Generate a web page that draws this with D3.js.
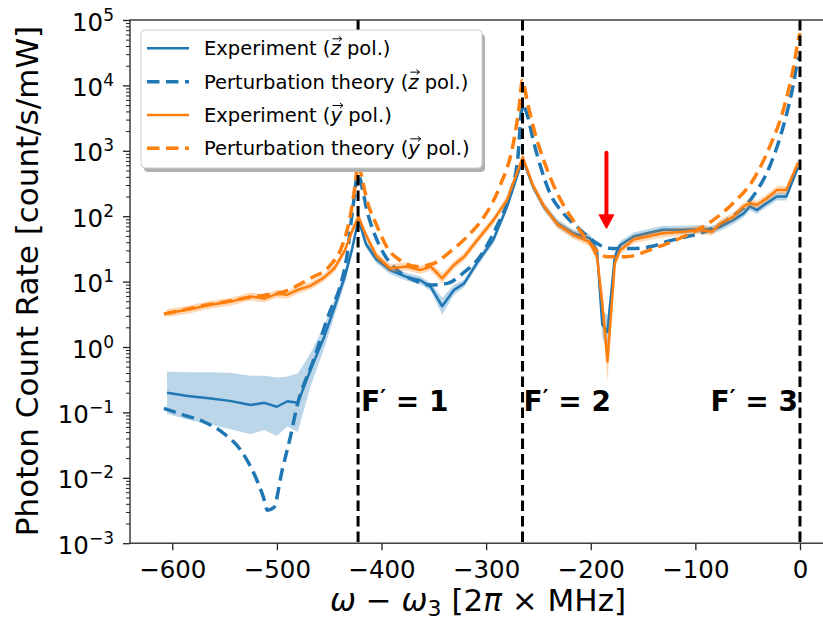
<!DOCTYPE html>
<html>
<head>
<meta charset="utf-8">
<style>
  body { margin: 0; background: #fff; }
  svg { display: block; font-family: "DejaVu Sans", sans-serif; }
</style>
</head>
<body>
<script src="https://d3js.org/d3.v7.min.js"></script>
<script>
var width = 823, height = 621;
var blue = "#1f77b4", orange = "#ff7f0e";

// measured points (detuning in 2pi x MHz), shared by both polarisations
var expX = [-605,-585,-565,-545,-525,-512,-500,-490,-480,-468,-455,-445,-435,-428,-422,
  -415,-405,-392,-376,-363,-353,-342,-331,-321,-309,-293,-280,-265,-255,-245,
  -232,-217,-201,-194,-189,-184,-177,-172,-159,-146,-131,-111,-96,-84,-76,
  -64,-54,-48,-41,-32,-22,-13,-2];
var expZ = [0.20,0.178,0.165,0.15,0.13,0.14,0.122,0.148,0.14,0.44,1.4,4.0,12,32,90,
  38,22,15,11.8,10.5,8.3,4.2,7.4,9.4,19,44,140,750,280,141,
  78,55,46,30,2.2,1.7,24,36,49,55,62,62,63,62,69,
  87,110,141,124,158,200,200,560];
var expZErr = [2.1,2.3,2.5,2.7,2.8,2.6,2.8,2.4,2.8,1.8,1.5,1.35,1.25,1.2,1.15,
  1.15,1.15,1.15,1.15,1.15,1.15,1.35,1.2,1.15,1.15,1.15,1.15,1.15,1.15,1.15,
  1.15,1.15,1.15,1.2,1.6,1.8,1.25,1.15,1.15,1.15,1.15,1.15,1.15,1.15,1.15,
  1.15,1.15,1.15,1.15,1.15,1.15,1.15,1.15];
var expY = [3.3,3.7,4.4,4.9,5.9,5.5,6.5,6.3,7.5,8.6,11.5,16,30,60,98,
  52,25,16,17,15,17,11.2,17.8,24,42,87,178,800,290,145,
  75,52,40,24,4.7,0.6,19,30,44,49,55,58,62,58,78,
  98,141,158,150,187,251,251,650];
var expYErr = [1.15,1.15,1.15,1.15,1.15,1.15,1.15,1.15,1.15,1.15,1.15,1.15,1.15,1.15,1.15,
  1.15,1.15,1.15,1.15,1.15,1.15,1.2,1.15,1.15,1.15,1.15,1.15,1.15,1.15,1.15,
  1.15,1.15,1.15,1.2,1.6,2.1,1.2,1.15,1.15,1.15,1.15,1.15,1.15,1.15,1.15,
  1.15,1.15,1.15,1.15,1.15,1.15,1.15,1.15];

// perturbation theory curves
var theoZX = [-608,-589,-570,-551,-535,-522,-513,-509,-503,-495,-487,-481,-465,-449,-440,
  -433,-427,-422.4,-418,-414,-407,-398,-385,-369,-353,-337,-322,-306,-290,-277,
  -270,-265.2,-261,-255,-248,-239,-226,-210,-191,-178,-159,-140,-127,-110,-95,
  -70,-45,-29,-16,-6,-2,0];
var theoZ = [0.115,0.091,0.072,0.048,0.027,0.0117,0.0051,0.0032,0.0035,0.013,0.043,0.12,0.63,3.6,8,
  25,150,450,250,124,55,27,15,10.5,8.9,9.4,13.5,24,69,224,
  700,5000,3700,1450,575,224,110,62,36,32,32,35,41,48,55,
  87,200,575,2350,11000,24500,27500];
var theoYX = [-608,-589,-570,-550,-530,-512,-493,-480,-468,-449,-438,-430,-425,-422.4,-419,
  -414,-404,-395,-382,-366,-350,-334,-318,-302,-287,-274,-269,-265.2,-261,-255,
  -245,-232,-217,-201,-185,-166,-140,-111,-83,-64,-45,-29,-16,-6,-1,0];
var theoY = [3.2,3.7,4.3,4.9,5.6,6.2,7.0,8.8,11.2,17.8,34,98,316,650,400,
  178,69,34,21,17,19,29,49,98,283,1300,4000,12000,6000,2350,
  720,224,87,39,24,24,32,49,87,158,355,1150,4200,19500,55000,63000];

var xTicks = [-600,-500,-400,-300,-200,-100,0];
var yDecades = [-3,-2,-1,0,1,2,3,4,5];
var resonances = [-422.4, -265.2, 0];
var resonanceNames = ["1", "2", "3"];
var arrowX = -185, arrowFrom = 930, arrowTo = 66;

var legendItems = [
  {name: "Experiment", vec: "z", color: blue, dashed: false},
  {name: "Perturbation theory", vec: "z", color: blue, dashed: true},
  {name: "Experiment", vec: "y", color: orange, dashed: false},
  {name: "Perturbation theory", vec: "y", color: orange, dashed: true}
];

var pL = 130, pR = 832, pT = 20, pB = 543.2;
var x = d3.scaleLinear().domain([-640.4, 30.6]).range([pL, pR]);
var y = d3.scaleLog().domain([1e-3, 1e5]).range([pB, pT]);

var svg = d3.select("body").append("svg")
    .attr("width", width).attr("height", height);

svg.append("clipPath").attr("id", "plot")
  .append("rect").attr("x", pL).attr("y", pT)
    .attr("width", pR - pL).attr("height", pB - pT);

var plot = svg.append("g").attr("clip-path", "url(#plot)");

function rows(xs, ys, es) {
  return xs.map(function(d, i) { return {x: d, v: ys[i], e: es ? es[i] : 1}; });
}

var line = d3.line().x(function(d) { return x(d.x); }).y(function(d) { return y(d.v); });
var smooth = d3.line().curve(d3.curveMonotoneX)
    .x(function(d) { return x(d.x); }).y(function(d) { return y(d.v); });
var band = d3.area().x(function(d) { return x(d.x); })
    .y0(function(d) { return y(d.v / d.e); })
    .y1(function(d) { return y(d.v * d.e); });

var zRows = rows(expX, expZ, expZErr), yRows = rows(expX, expY, expYErr);

function drawSeries(r, th, color) {
  plot.append("path").attr("d", band(r)).attr("fill", color).attr("fill-opacity", 0.3);
  plot.append("path").attr("d", line(r)).attr("fill", "none")
      .attr("stroke", color).attr("stroke-width", 2.5).attr("stroke-linejoin", "round");
  plot.append("path").attr("d", smooth(th)).attr("fill", "none")
      .attr("stroke", color).attr("stroke-width", 3.5).attr("stroke-dasharray", "12.5,6.5");
}
drawSeries(zRows, rows(theoZX, theoZ), blue);
drawSeries(yRows, rows(theoYX, theoY), orange);

// resonance markers
plot.selectAll(".res").data(resonances).enter().append("line")
    .attr("x1", function(d) { return x(d); }).attr("x2", function(d) { return x(d); })
    .attr("y1", pT).attr("y2", pB)
    .attr("stroke", "#000").attr("stroke-width", 3).attr("stroke-dasharray", "10.5,5");

// red arrow
var ax = x(arrowX), ay0 = y(arrowFrom), ay1 = y(arrowTo);
svg.append("line").attr("x1", ax).attr("x2", ax).attr("y1", ay0).attr("y2", ay1 - 10)
    .attr("stroke", "red").attr("stroke-width", 4).attr("stroke-linecap", "round");
svg.append("path")
    .attr("d", "M" + (ax - 7) + "," + (ay1 - 13) + "L" + (ax + 7) + "," + (ay1 - 13) + "L" + ax + "," + ay1 + "Z")
    .attr("fill", "red").attr("stroke", "red").attr("stroke-width", 1.5).attr("stroke-linejoin", "round");

// F' labels
var anchors = ["start", "start", "end"], offs = [3, 1, -2];
resonances.forEach(function(r, i) {
  var t = svg.append("text").attr("x", x(r) + offs[i]).attr("y", 411)
      .attr("text-anchor", anchors[i]).attr("font-weight", "bold").attr("font-size", 28);
  t.append("tspan").text("F");
  t.append("tspan").text("\u2032").attr("font-size", 22).attr("dy", -6);
  t.append("tspan").text(" = " + resonanceNames[i]).attr("dy", 6);
});

// axes
var xAxis = svg.append("g").attr("transform", "translate(0," + pB + ")")
    .call(d3.axisBottom(x).tickValues(xTicks).tickSize(7).tickPadding(10).tickFormat(d3.format("d")));
xAxis.select(".domain").remove();
xAxis.selectAll("line").attr("stroke", "#222").attr("stroke-width", 1.3);
xAxis.selectAll("text").attr("font-size", 24.5).attr("fill", "#000")
    .attr("font-family", "DejaVu Sans");

var minor = [];
yDecades.slice(0, -1).forEach(function(p) {
  for (var k = 2; k <= 9; k++) minor.push(k * Math.pow(10, p));
});
var yMinor = svg.append("g").attr("transform", "translate(" + pL + ",0)")
    .call(d3.axisLeft(y).tickValues(minor).tickSize(4).tickFormat(""));
yMinor.select(".domain").remove();
yMinor.selectAll("line").attr("stroke", "#222").attr("stroke-width", 1);

var yAxis = svg.append("g").attr("transform", "translate(" + pL + ",0)")
    .call(d3.axisLeft(y).tickValues(yDecades.map(function(p) { return Math.pow(10, p); }))
      .tickSize(7).tickFormat(""));
yAxis.select(".domain").remove();
yAxis.selectAll("line").attr("stroke", "#222").attr("stroke-width", 1.3);

yDecades.forEach(function(p) {
  var t = svg.append("text").attr("x", 114).attr("y", y(Math.pow(10, p)) + 10.5)
      .attr("text-anchor", "end").attr("font-size", 24.5);
  t.append("tspan").text("10");
  t.append("tspan").text(String(p).replace("-", "\u2212")).attr("font-size", 17).attr("dy", -10);
});

svg.append("rect").attr("x", pL).attr("y", pT)
    .attr("width", pR - pL).attr("height", pB - pT)
    .attr("fill", "none").attr("stroke", "#222").attr("stroke-width", 1.3);

// axis labels
svg.append("text").attr("transform", "translate(38,281) rotate(-90)")
    .attr("text-anchor", "middle").attr("font-size", 31)
    .text("Photon Count Rate [count/s/mW]");

var xl = svg.append("text").attr("x", 478).attr("y", 611)
    .attr("text-anchor", "middle").attr("font-size", 31);
xl.append("tspan").attr("font-style", "italic").text("\u03c9");
xl.append("tspan").text(" \u2212 ");
xl.append("tspan").attr("font-style", "italic").text("\u03c9");
xl.append("tspan").text("3").attr("font-size", 22).attr("dy", 5);
xl.append("tspan").text(" [2").attr("dy", -5);
xl.append("tspan").attr("font-style", "italic").text("\u03c0");
xl.append("tspan").text(" \u00d7 MHz]");

// legend
var lg = svg.append("g");
lg.append("rect").attr("x", 144).attr("y", 34).attr("width", 341).attr("height", 138)
    .attr("rx", 4).attr("fill", "#b0b0b0");
lg.append("rect").attr("x", 141).attr("y", 30).attr("width", 341).attr("height", 138)
    .attr("rx", 4).attr("fill", "#fff").attr("stroke", "#cccccc").attr("stroke-width", 1);

legendItems.forEach(function(d, i) {
  var cy = 48.3 + i * 33.35;
  lg.append("line").attr("x1", 147).attr("x2", 189).attr("y1", cy).attr("y2", cy)
      .attr("stroke", d.color).attr("stroke-width", d.dashed ? 3.5 : 2.5)
      .attr("stroke-dasharray", d.dashed ? "12.5,6.5" : null);
  var t = lg.append("text").attr("x", 204).attr("y", cy + 7).attr("font-size", 19.5);
  t.append("tspan").text(d.name + " (");
  t.append("tspan").attr("font-style", "italic").text(d.vec);
  t.append("tspan").text(" pol.)");
  var idx = d.name.length + 2;
  var ext = t.node().getExtentOfChar(idx);
  var ax0 = ext.x + 2, ax1 = ext.x + ext.width + 1, ayy = cy - 9.5;
  lg.append("path")
      .attr("d", "M" + ax0 + "," + ayy + "L" + ax1 + "," + ayy +
        "M" + (ax1 - 3) + "," + (ayy - 2.5) + "L" + ax1 + "," + ayy + "L" + (ax1 - 3) + "," + (ayy + 2.5))
      .attr("fill", "none").attr("stroke", "#000").attr("stroke-width", 1);
});
</script>
</body>
</html>
